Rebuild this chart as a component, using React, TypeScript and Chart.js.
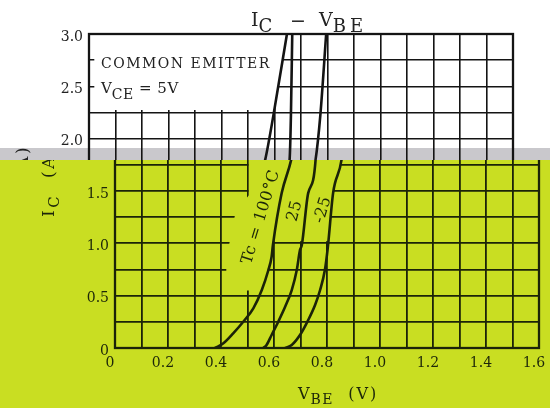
import React, { useEffect, useRef } from "react";
import { Chart, registerables } from "chart.js";

Chart.register(...registerables);

// ---------- data ----------
const vbeTickLabels = ["0", "0.2", "0.4", "0.6", "0.8", "1.0", "1.2", "1.4", "1.6"];
const icTickLabels = ["0", "0.5", "1.0", "1.5", "2.0", "2.5", "3.0"];

const curveNames = ["Tc = 100°C", "25", "-25"];

const vbe100 = [0.377, 0.409, 0.446, 0.484, 0.522, 0.554, 0.578, 0.591, 0.596, 0.629, 0.665, 0.696, 0.747];
const ic100 = [0, 0.045, 0.14, 0.251, 0.379, 0.554, 0.738, 0.872, 0.984, 1.48, 1.8, 2.225, 3.0];

const vbe25 = [0.56, 0.572, 0.591, 0.616, 0.642, 0.667, 0.686, 0.698, 0.705, 0.729, 0.757, 0.762, 0.767];
const ic25 = [0, 0.029, 0.124, 0.251, 0.394, 0.554, 0.745, 0.936, 0.984, 1.48, 1.8, 2.225, 3.0];

const vbeM25 = [0.642, 0.667, 0.698, 0.729, 0.755, 0.774, 0.792, 0.803, 0.823, 0.855, 0.873, 0.895];
const icM25 = [0, 0.029, 0.124, 0.267, 0.411, 0.554, 0.745, 0.96, 1.48, 1.8, 2.225, 3.0];

// annotation anchors (data coordinates)
const curveLabelV = [0.551, 0.679, 0.785];
const curveLabelI = [1.25, 1.31, 1.32];

// ---------- styles ----------
const SERIF = "'DejaVu Serif', 'Liberation Serif', serif";
const YELLOW = "#c9de22";
const GRAY = "#c9c8cc";

type Variant = "top" | "bottom";

function vAt(vs: number[], is: number[], I: number) {
  for (let k = 1; k < is.length; k++) {
    if (I <= is[k]) {
      const t = (I - is[k - 1]) / (is[k] - is[k - 1]);
      return vs[k - 1] + t * (vs[k] - vs[k - 1]);
    }
  }
  return vs[vs.length - 1];
}
function seg(vs: number[], is: number[], lo: number, hi: number, desc: boolean) {
  const pts: [number, number][] = [];
  for (let k = 0; k < vs.length; k++) if (is[k] > lo && is[k] < hi) pts.push([vs[k], is[k]]);
  return desc ? pts.reverse() : pts;
}

function erasePolys(variant: Variant): [number, number][][] {
  if (variant === "top") {
    return [
      [
        [0.02, 2.275],
        [0.02, 3.1],
        [vAt(vbe100, ic100, 3.0), 3.1],
        ...seg(vbe100, ic100, 2.275, 3.01, true),
        [vAt(vbe100, ic100, 2.275), 2.275],
      ],
    ];
  }
  return [
    [
      [0.42, 0.55],
      [0.42, 0.85],
      [0.455, 1.3],
      [0.505, 1.46],
      [0.505, 1.95],
      [vAt(vbeM25, icM25, 1.95), 1.95],
      ...seg(vbeM25, icM25, 1.02, 1.95, true),
      [vAt(vbeM25, icM25, 1.02), 1.02],
      [vAt(vbe100, ic100, 1.02), 1.02],
      ...seg(vbe100, ic100, 0.55, 1.02, true),
      [vAt(vbe100, ic100, 0.55), 0.55],
    ],
  ];
}

// [text, isSubscript, letterSpacing]
type Part = [string, boolean, number];
function drawParts(
  ctx: CanvasRenderingContext2D,
  parts: Part[],
  x: number,
  y: number,
  main: number,
  sub: number,
  subDy: number,
  align: "left" | "center" = "left"
) {
  ctx.textBaseline = "alphabetic";
  ctx.textAlign = "left";
  let total = 0;
  const widths = parts.map(([t, s, sp]) => {
    ctx.font = `${s ? sub : main}px ${SERIF}`;
    (ctx as any).letterSpacing = sp + "px";
    const w = ctx.measureText(t).width;
    total += w;
    return w;
  });
  let cx = align === "center" ? x - total / 2 : x;
  parts.forEach(([t, s, sp], k) => {
    ctx.font = `${s ? sub : main}px ${SERIF}`;
    (ctx as any).letterSpacing = sp + "px";
    ctx.fillText(t, cx, s ? y + subDy : y);
    cx += widths[k];
  });
  (ctx as any).letterSpacing = "0px";
}

function buildConfig(variant: Variant): any {
  const isTop = variant === "top";
  const axisW = isTop ? 89 : 115;
  const padRight = isTop ? 37 : 11;
  const ink = isTop ? "#141414" : "#1b2308";
  const textInk = isTop ? "#222222" : "#1d2709";

  const mk = (vs: number[], is: number[], name: string) => ({
    label: name,
    data: vs.map((v, k) => ({ x: v, y: is[k] })),
    showLine: true,
    borderColor: ink,
    borderWidth: 2.6,
    pointRadius: 0,
    cubicInterpolationMode: "monotone",
    fill: false,
  });

  const erasePlugin = {
    id: "eraseFrame",
    beforeDatasetsDraw(chart: any) {
      const { ctx, chartArea: a, scales } = chart;
      const x = scales.x;
      const y = scales.y;
      ctx.save();
      ctx.beginPath();
      ctx.rect(a.left, a.top, a.right - a.left, a.bottom - a.top);
      ctx.clip();
      ctx.globalCompositeOperation = "destination-out";
      ctx.fillStyle = "#000";
      for (const poly of erasePolys(variant)) {
        ctx.beginPath();
        poly.forEach(([v, i], k) => {
          const px = x.getPixelForValue(v);
          const py = y.getPixelForValue(i);
          if (k === 0) ctx.moveTo(px, py);
          else ctx.lineTo(px, py);
        });
        ctx.closePath();
        ctx.fill();
      }
      ctx.restore();
      ctx.save();
      ctx.strokeStyle = ink;
      ctx.lineWidth = 2.3;
      ctx.strokeRect(a.left, a.top, a.right - a.left, a.bottom - a.top);
      ctx.restore();
    },
  };

  const textPlugin = {
    id: "texts",
    afterDraw(chart: any) {
      const { ctx, chartArea: a, scales } = chart;
      ctx.save();
      ctx.fillStyle = textInk;
      // title
      drawParts(ctx, [["I", false, 0], ["C", true, 0]], a.left + 162, 26, 19, 18, 6);
      drawParts(ctx, [["\u2212", false, 0]], a.left + 201, 27, 19, 18, 6);
      drawParts(ctx, [["V", false, 0], ["BE", true, 4]], a.left + 230, 26, 19, 18, 6);
      // condition text
      drawParts(ctx, [["COMMON EMITTER", false, 1.5]], a.left + 12, 68, 14, 14, 0);
      drawParts(ctx, [["V", false, 0], ["CE", true, 0.5], [" = 5V", false, 0.5]], a.left + 12, 93, 15, 14, 6);
      // x-axis title
      drawParts(ctx, [["V", false, 1], ["BE", true, 1.5], ["  (V)", false, 2]], a.left + 183, 399, 16, 14, 5);
      // y-axis title
      ctx.save();
      ctx.translate(a.left - 67, 181);
      ctx.rotate(-Math.PI / 2);
      drawParts(ctx, [["I", false, 2.5], ["C", true, 2.5], ["  (A)", false, 2.5]], 0, 6, 17, 15, 5, "center");
      ctx.restore();
      // curve labels
      const angles = [-73, -75, -73];
      curveNames.forEach((name, k) => {
        const px = scales.x.getPixelForValue(curveLabelV[k]);
        const py = scales.y.getPixelForValue(curveLabelI[k]);
        ctx.save();
        ctx.translate(px, py);
        ctx.rotate((angles[k] * Math.PI) / 180);
        ctx.textAlign = "center";
        ctx.textBaseline = "middle";
        ctx.font = `16px ${SERIF}`;
        (ctx as any).letterSpacing = "0.5px";
        ctx.fillText(name, 0, 0);
        ctx.restore();
      });
      ctx.restore();
    },
  };

  return {
    type: "scatter",
    data: {
      datasets: [
        mk(vbe100, ic100, curveNames[0]),
        mk(vbe25, ic25, curveNames[1]),
        mk(vbeM25, icM25, curveNames[2]),
      ],
    },
    options: {
      responsive: false,
      animation: false,
      devicePixelRatio: 1,
      layout: { padding: { top: 34, right: padRight, bottom: 0, left: 0 } },
      plugins: { legend: { display: false }, tooltip: { enabled: false }, title: { display: false } },
      scales: {
        x: {
          type: "linear",
          min: 0,
          max: 1.6,
          ticks: {
            stepSize: 0.1,
            autoSkip: false,
            maxRotation: 0,
            padding: 7,
            labelOffset: -5,
            color: textInk,
            font: { family: SERIF, size: 14 },
            callback: (v: number) => {
              const i = Math.round(v * 10);
              return i % 2 === 0 ? vbeTickLabels[i / 2] : "";
            },
          },
          grid: { color: ink, lineWidth: isTop ? 1.6 : 1.8, drawTicks: false },
          border: { display: false },
          afterFit: (s: any) => {
            s.height = 60;
            s.paddingLeft = 0;
            s.paddingRight = 0;
          },
        },
        y: {
          type: "linear",
          min: 0,
          max: 3.0,
          ticks: {
            stepSize: 0.25,
            autoSkip: false,
            padding: 6,
            labelOffset: 3,
            color: textInk,
            font: { family: SERIF, size: 14 },
            callback: (v: number) => {
              const i = Math.round(v * 4);
              return i % 2 === 0 ? icTickLabels[i / 2] : "";
            },
          },
          grid: { color: ink, lineWidth: isTop ? 1.6 : 1.8, drawTicks: false },
          border: { display: false },
          afterFit: (s: any) => {
            s.width = axisW;
            s.paddingTop = 0;
            s.paddingBottom = 0;
          },
        },
      },
    },
    plugins: [erasePlugin, textPlugin],
  };
}

function ChartView({ variant }: { variant: Variant }) {
  const ref = useRef<HTMLCanvasElement>(null);
  useEffect(() => {
    const chart = new Chart(ref.current as HTMLCanvasElement, buildConfig(variant));
    return () => chart.destroy();
  }, [variant]);
  return <canvas ref={ref} width={550} height={408} style={{ display: "block", width: 550, height: 408 }} />;
}

export default function App() {
  const BAND_TOP = 148;
  const SPLIT = 160;
  return (
    <div style={{ position: "fixed", left: 0, top: 0, width: 550, height: 408, overflow: "hidden", background: "#fff" }}>
      <div
        style={{
          position: "absolute",
          left: 0,
          top: 0,
          width: 550,
          height: SPLIT,
          overflow: "hidden",
          background: `linear-gradient(#ffffff 0px, #ffffff ${BAND_TOP}px, ${GRAY} ${BAND_TOP}px, ${GRAY} ${SPLIT}px)`,
        }}
      >
        <ChartView variant="top" />
      </div>
      <div
        style={{
          position: "absolute",
          left: 0,
          top: SPLIT,
          width: 550,
          height: 408 - SPLIT,
          overflow: "hidden",
          background: YELLOW,
        }}
      >
        <div style={{ position: "absolute", left: 0, top: -SPLIT }}>
          <ChartView variant="bottom" />
        </div>
      </div>
    </div>
  );
}
